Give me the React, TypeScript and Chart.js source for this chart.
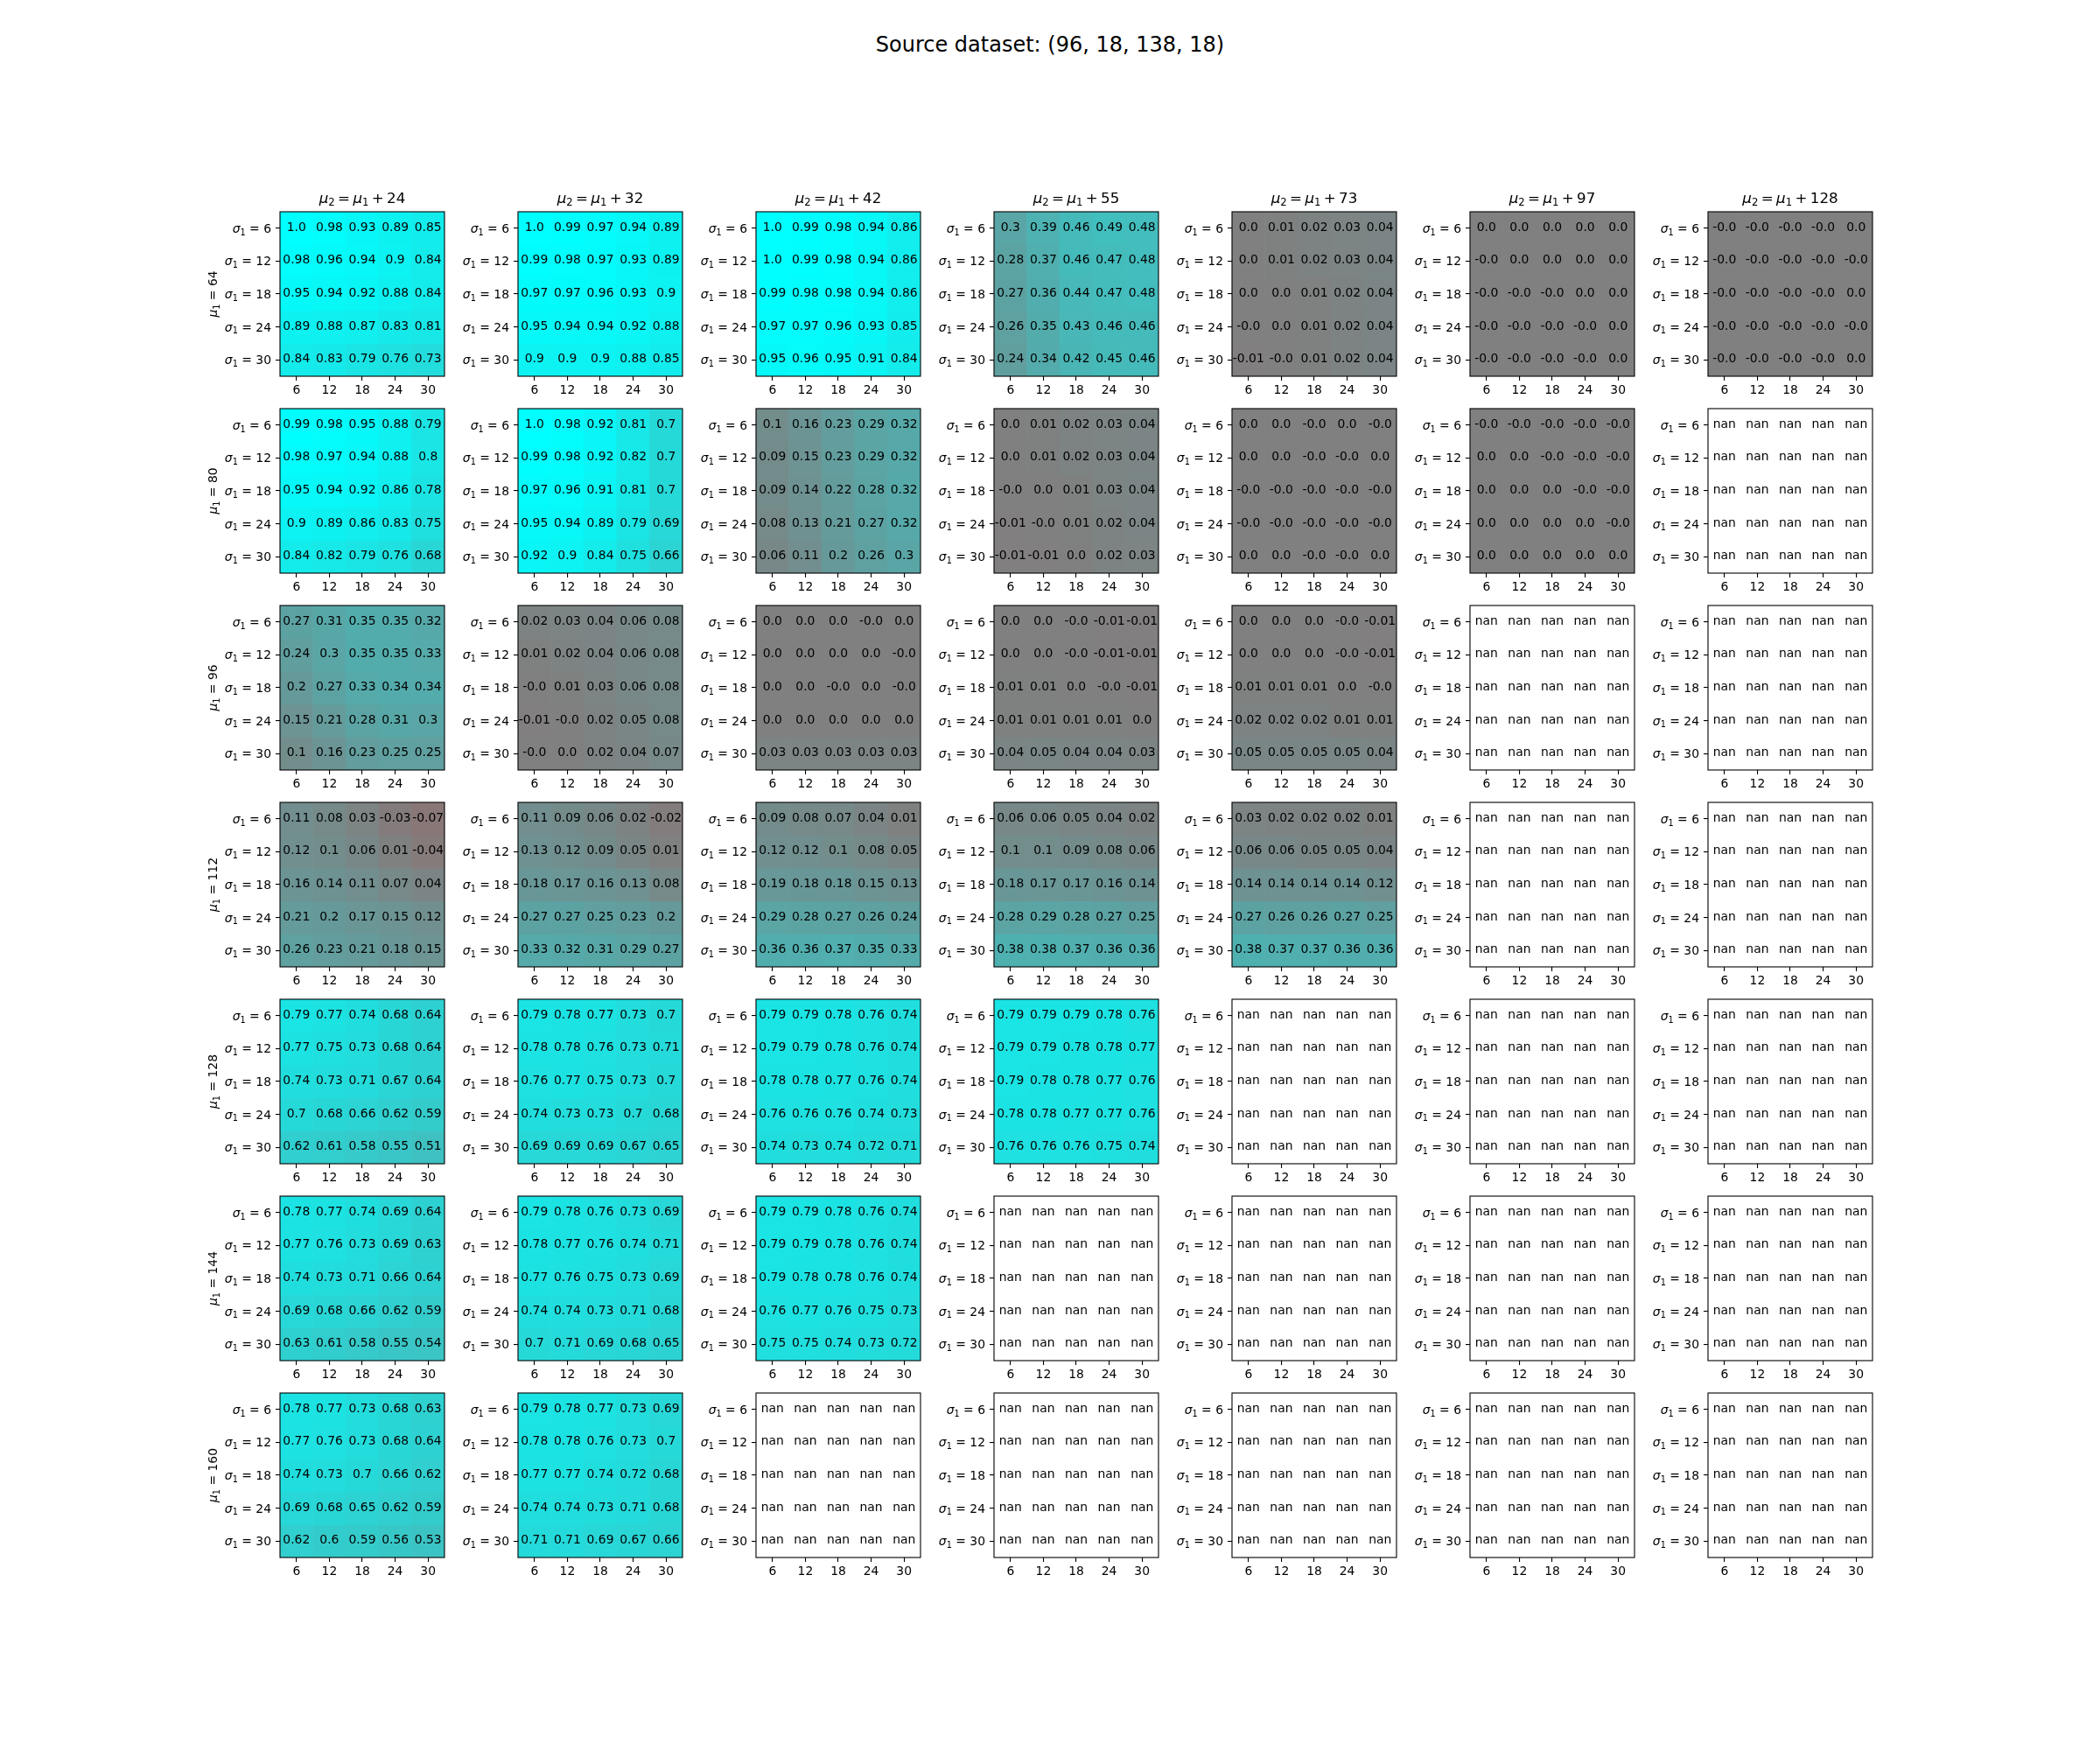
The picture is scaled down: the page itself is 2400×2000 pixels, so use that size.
import React, { useEffect, useRef } from "react";
import { Chart, registerables } from "chart.js";

Chart.register(...registerables);

// ---------- labels ----------
const SUPTITLE = "Source dataset: (96, 18, 138, 18)";
const SIGMA = [6, 12, 18, 24, 30];
const MU1 = [64, 80, 96, 112, 128, 144, 160];
const OFFSETS = [24, 32, 42, 55, 73, 97, 128];

// ---------- data (rows: sigma1 = 6..30, cols: 6..30); -0 means "-0.0" ----------
const MU64_OFF24 = [
  [1.0, 0.98, 0.93, 0.89, 0.85],
  [0.98, 0.96, 0.94, 0.9, 0.84],
  [0.95, 0.94, 0.92, 0.88, 0.84],
  [0.89, 0.88, 0.87, 0.83, 0.81],
  [0.84, 0.83, 0.79, 0.76, 0.73],
];
const MU64_OFF32 = [
  [1.0, 0.99, 0.97, 0.94, 0.89],
  [0.99, 0.98, 0.97, 0.93, 0.89],
  [0.97, 0.97, 0.96, 0.93, 0.9],
  [0.95, 0.94, 0.94, 0.92, 0.88],
  [0.9, 0.9, 0.9, 0.88, 0.85],
];
const MU64_OFF42 = [
  [1.0, 0.99, 0.98, 0.94, 0.86],
  [1.0, 0.99, 0.98, 0.94, 0.86],
  [0.99, 0.98, 0.98, 0.94, 0.86],
  [0.97, 0.97, 0.96, 0.93, 0.85],
  [0.95, 0.96, 0.95, 0.91, 0.84],
];
const MU64_OFF55 = [
  [0.3, 0.39, 0.46, 0.49, 0.48],
  [0.28, 0.37, 0.46, 0.47, 0.48],
  [0.27, 0.36, 0.44, 0.47, 0.48],
  [0.26, 0.35, 0.43, 0.46, 0.46],
  [0.24, 0.34, 0.42, 0.45, 0.46],
];
const MU64_OFF73 = [
  [0.0, 0.01, 0.02, 0.03, 0.04],
  [0.0, 0.01, 0.02, 0.03, 0.04],
  [0.0, 0.0, 0.01, 0.02, 0.04],
  [-0, 0.0, 0.01, 0.02, 0.04],
  [-0.01, -0, 0.01, 0.02, 0.04],
];
const MU64_OFF97 = [
  [0.0, 0.0, 0.0, 0.0, 0.0],
  [-0, 0.0, 0.0, 0.0, 0.0],
  [-0, -0, -0, 0.0, 0.0],
  [-0, -0, -0, -0, 0.0],
  [-0, -0, -0, -0, 0.0],
];
const MU64_OFF128 = [
  [-0, -0, -0, -0, 0.0],
  [-0, -0, -0, -0, -0],
  [-0, -0, -0, -0, 0.0],
  [-0, -0, -0, -0, -0],
  [-0, -0, -0, -0, 0.0],
];

const MU80_OFF24 = [
  [0.99, 0.98, 0.95, 0.88, 0.79],
  [0.98, 0.97, 0.94, 0.88, 0.8],
  [0.95, 0.94, 0.92, 0.86, 0.78],
  [0.9, 0.89, 0.86, 0.83, 0.75],
  [0.84, 0.82, 0.79, 0.76, 0.68],
];
const MU80_OFF32 = [
  [1.0, 0.98, 0.92, 0.81, 0.7],
  [0.99, 0.98, 0.92, 0.82, 0.7],
  [0.97, 0.96, 0.91, 0.81, 0.7],
  [0.95, 0.94, 0.89, 0.79, 0.69],
  [0.92, 0.9, 0.84, 0.75, 0.66],
];
const MU80_OFF42 = [
  [0.1, 0.16, 0.23, 0.29, 0.32],
  [0.09, 0.15, 0.23, 0.29, 0.32],
  [0.09, 0.14, 0.22, 0.28, 0.32],
  [0.08, 0.13, 0.21, 0.27, 0.32],
  [0.06, 0.11, 0.2, 0.26, 0.3],
];
const MU80_OFF55 = [
  [0.0, 0.01, 0.02, 0.03, 0.04],
  [0.0, 0.01, 0.02, 0.03, 0.04],
  [-0, 0.0, 0.01, 0.03, 0.04],
  [-0.01, -0, 0.01, 0.02, 0.04],
  [-0.01, -0.01, 0.0, 0.02, 0.03],
];
const MU80_OFF73 = [
  [0.0, 0.0, -0, 0.0, -0],
  [0.0, 0.0, -0, -0, 0.0],
  [-0, -0, -0, -0, -0],
  [-0, -0, -0, -0, -0],
  [0.0, 0.0, -0, -0, 0.0],
];
const MU80_OFF97 = [
  [-0, -0, -0, -0, -0],
  [0.0, 0.0, -0, -0, -0],
  [0.0, 0.0, 0.0, -0, -0],
  [0.0, 0.0, 0.0, 0.0, -0],
  [0.0, 0.0, 0.0, 0.0, 0.0],
];

const MU96_OFF24 = [
  [0.27, 0.31, 0.35, 0.35, 0.32],
  [0.24, 0.3, 0.35, 0.35, 0.33],
  [0.2, 0.27, 0.33, 0.34, 0.34],
  [0.15, 0.21, 0.28, 0.31, 0.3],
  [0.1, 0.16, 0.23, 0.25, 0.25],
];
const MU96_OFF32 = [
  [0.02, 0.03, 0.04, 0.06, 0.08],
  [0.01, 0.02, 0.04, 0.06, 0.08],
  [-0, 0.01, 0.03, 0.06, 0.08],
  [-0.01, -0, 0.02, 0.05, 0.08],
  [-0, 0.0, 0.02, 0.04, 0.07],
];
const MU96_OFF42 = [
  [0.0, 0.0, 0.0, -0, 0.0],
  [0.0, 0.0, 0.0, 0.0, -0],
  [0.0, 0.0, -0, 0.0, -0],
  [0.0, 0.0, 0.0, 0.0, 0.0],
  [0.03, 0.03, 0.03, 0.03, 0.03],
];
const MU96_OFF55 = [
  [0.0, 0.0, -0, -0.01, -0.01],
  [0.0, 0.0, -0, -0.01, -0.01],
  [0.01, 0.01, 0.0, -0, -0.01],
  [0.01, 0.01, 0.01, 0.01, 0.0],
  [0.04, 0.05, 0.04, 0.04, 0.03],
];
const MU96_OFF73 = [
  [0.0, 0.0, 0.0, -0, -0.01],
  [0.0, 0.0, 0.0, -0, -0.01],
  [0.01, 0.01, 0.01, 0.0, -0],
  [0.02, 0.02, 0.02, 0.01, 0.01],
  [0.05, 0.05, 0.05, 0.05, 0.04],
];

const MU112_OFF24 = [
  [0.11, 0.08, 0.03, -0.03, -0.07],
  [0.12, 0.1, 0.06, 0.01, -0.04],
  [0.16, 0.14, 0.11, 0.07, 0.04],
  [0.21, 0.2, 0.17, 0.15, 0.12],
  [0.26, 0.23, 0.21, 0.18, 0.15],
];
const MU112_OFF32 = [
  [0.11, 0.09, 0.06, 0.02, -0.02],
  [0.13, 0.12, 0.09, 0.05, 0.01],
  [0.18, 0.17, 0.16, 0.13, 0.08],
  [0.27, 0.27, 0.25, 0.23, 0.2],
  [0.33, 0.32, 0.31, 0.29, 0.27],
];
const MU112_OFF42 = [
  [0.09, 0.08, 0.07, 0.04, 0.01],
  [0.12, 0.12, 0.1, 0.08, 0.05],
  [0.19, 0.18, 0.18, 0.15, 0.13],
  [0.29, 0.28, 0.27, 0.26, 0.24],
  [0.36, 0.36, 0.37, 0.35, 0.33],
];
const MU112_OFF55 = [
  [0.06, 0.06, 0.05, 0.04, 0.02],
  [0.1, 0.1, 0.09, 0.08, 0.06],
  [0.18, 0.17, 0.17, 0.16, 0.14],
  [0.28, 0.29, 0.28, 0.27, 0.25],
  [0.38, 0.38, 0.37, 0.36, 0.36],
];
const MU112_OFF73 = [
  [0.03, 0.02, 0.02, 0.02, 0.01],
  [0.06, 0.06, 0.05, 0.05, 0.04],
  [0.14, 0.14, 0.14, 0.14, 0.12],
  [0.27, 0.26, 0.26, 0.27, 0.25],
  [0.38, 0.37, 0.37, 0.36, 0.36],
];

const MU128_OFF24 = [
  [0.79, 0.77, 0.74, 0.68, 0.64],
  [0.77, 0.75, 0.73, 0.68, 0.64],
  [0.74, 0.73, 0.71, 0.67, 0.64],
  [0.7, 0.68, 0.66, 0.62, 0.59],
  [0.62, 0.61, 0.58, 0.55, 0.51],
];
const MU128_OFF32 = [
  [0.79, 0.78, 0.77, 0.73, 0.7],
  [0.78, 0.78, 0.76, 0.73, 0.71],
  [0.76, 0.77, 0.75, 0.73, 0.7],
  [0.74, 0.73, 0.73, 0.7, 0.68],
  [0.69, 0.69, 0.69, 0.67, 0.65],
];
const MU128_OFF42 = [
  [0.79, 0.79, 0.78, 0.76, 0.74],
  [0.79, 0.79, 0.78, 0.76, 0.74],
  [0.78, 0.78, 0.77, 0.76, 0.74],
  [0.76, 0.76, 0.76, 0.74, 0.73],
  [0.74, 0.73, 0.74, 0.72, 0.71],
];
const MU128_OFF55 = [
  [0.79, 0.79, 0.79, 0.78, 0.76],
  [0.79, 0.79, 0.78, 0.78, 0.77],
  [0.79, 0.78, 0.78, 0.77, 0.76],
  [0.78, 0.78, 0.77, 0.77, 0.76],
  [0.76, 0.76, 0.76, 0.75, 0.74],
];

const MU144_OFF24 = [
  [0.78, 0.77, 0.74, 0.69, 0.64],
  [0.77, 0.76, 0.73, 0.69, 0.63],
  [0.74, 0.73, 0.71, 0.66, 0.64],
  [0.69, 0.68, 0.66, 0.62, 0.59],
  [0.63, 0.61, 0.58, 0.55, 0.54],
];
const MU144_OFF32 = [
  [0.79, 0.78, 0.76, 0.73, 0.69],
  [0.78, 0.77, 0.76, 0.74, 0.71],
  [0.77, 0.76, 0.75, 0.73, 0.69],
  [0.74, 0.74, 0.73, 0.71, 0.68],
  [0.7, 0.71, 0.69, 0.68, 0.65],
];
const MU144_OFF42 = [
  [0.79, 0.79, 0.78, 0.76, 0.74],
  [0.79, 0.79, 0.78, 0.76, 0.74],
  [0.79, 0.78, 0.78, 0.76, 0.74],
  [0.76, 0.77, 0.76, 0.75, 0.73],
  [0.75, 0.75, 0.74, 0.73, 0.72],
];

const MU160_OFF24 = [
  [0.78, 0.77, 0.73, 0.68, 0.63],
  [0.77, 0.76, 0.73, 0.68, 0.64],
  [0.74, 0.73, 0.7, 0.66, 0.62],
  [0.69, 0.68, 0.65, 0.62, 0.59],
  [0.62, 0.6, 0.59, 0.56, 0.53],
];
const MU160_OFF32 = [
  [0.79, 0.78, 0.77, 0.73, 0.69],
  [0.78, 0.78, 0.76, 0.73, 0.7],
  [0.77, 0.77, 0.74, 0.72, 0.68],
  [0.74, 0.74, 0.73, 0.71, 0.68],
  [0.71, 0.71, 0.69, 0.67, 0.66],
];

const NAN_PANEL = null; // every cell is nan

const GRID = [
  [MU64_OFF24, MU64_OFF32, MU64_OFF42, MU64_OFF55, MU64_OFF73, MU64_OFF97, MU64_OFF128],
  [MU80_OFF24, MU80_OFF32, MU80_OFF42, MU80_OFF55, MU80_OFF73, MU80_OFF97, NAN_PANEL],
  [MU96_OFF24, MU96_OFF32, MU96_OFF42, MU96_OFF55, MU96_OFF73, NAN_PANEL, NAN_PANEL],
  [MU112_OFF24, MU112_OFF32, MU112_OFF42, MU112_OFF55, MU112_OFF73, NAN_PANEL, NAN_PANEL],
  [MU128_OFF24, MU128_OFF32, MU128_OFF42, MU128_OFF55, NAN_PANEL, NAN_PANEL, NAN_PANEL],
  [MU144_OFF24, MU144_OFF32, MU144_OFF42, NAN_PANEL, NAN_PANEL, NAN_PANEL, NAN_PANEL],
  [MU160_OFF24, MU160_OFF32, NAN_PANEL, NAN_PANEL, NAN_PANEL, NAN_PANEL, NAN_PANEL],
];

// ---------- layout / style ----------
const FONT = '"DejaVu Sans", sans-serif';
const PANEL = 188;
const COL0 = 320;
const ROW0 = 242;
const COL_STEP = 272;
const ROW_STEP = 225;
const M_LEFT = 100;
const M_TOP = 40;
const M_RIGHT = 10;
const M_BOTTOM = 35;
const TICK_PX = 13.9;
const ANN_PX = 13.9;
const TITLE_PX = 16.7;

function cmap(v: number | null): string {
  if (v === null || v === undefined || Number.isNaN(v)) return "rgba(0,0,0,0)";
  const t = Math.max(-1, Math.min(1, v));
  let r: number, g: number;
  if (t >= 0) {
    r = 128 * (1 - t);
    g = 128 + 127 * t;
  } else {
    const a = -t;
    r = 128 + 127 * a;
    g = 128 * (1 - a);
  }
  return `rgb(${Math.round(r)},${Math.round(g)},${Math.round(g)})`;
}

function fmt(v: number | null): string {
  if (v === null || v === undefined || Number.isNaN(v)) return "nan";
  if (Object.is(v, -0)) return "-0.0";
  if (Number.isInteger(v)) return v.toFixed(1);
  return String(v);
}

type Part = { t: string; s: "it" | "rm" | "sub"; gap?: number };

function fontFor(p: Part, size: number) {
  if (p.s === "it") return `italic ${size}px ${FONT}`;
  if (p.s === "sub") return `${size * 0.7}px ${FONT}`;
  return `${size}px ${FONT}`;
}

// gap: extra space (in em) on both sides of the part (mathtext operator spacing)
function drawMath(ctx: CanvasRenderingContext2D, parts: Part[], x: number, y: number, size: number, align: "left" | "center" | "right") {
  ctx.textAlign = "left";
  ctx.textBaseline = "alphabetic";
  const widths = parts.map((p) => {
    ctx.font = fontFor(p, size);
    return ctx.measureText(p.t).width + 2 * (p.gap || 0) * size;
  });
  const total = widths.reduce((a, b) => a + b, 0);
  let cx = align === "center" ? x - total / 2 : align === "right" ? x - total : x;
  parts.forEach((p, i) => {
    ctx.font = fontFor(p, size);
    ctx.fillText(p.t, cx + (p.gap || 0) * size, y + (p.s === "sub" ? 0.2 * size : 0));
    cx += widths[i];
  });
}

function Panel({ r, c }: { r: number; c: number }) {
  const ref = useRef<HTMLCanvasElement | null>(null);
  const vals = GRID[r][c];
  const left = COL0 + COL_STEP * c - M_LEFT;
  const top = ROW0 + ROW_STEP * r - M_TOP;
  const W = M_LEFT + PANEL + M_RIGHT;
  const H = M_TOP + PANEL + M_BOTTOM;

  useEffect(() => {
    if (!ref.current) return;
    const decor = {
      id: "panelDecor",
      afterDatasetsDraw(chart: any) {
        const { ctx, chartArea: a, scales } = chart;
        const xs = scales.x;
        const ys = scales.y;
        ctx.save();
        ctx.fillStyle = "#000";
        ctx.font = `${ANN_PX}px ${FONT}`;
        ctx.textAlign = "center";
        ctx.textBaseline = "alphabetic";
        for (let i = 0; i < SIGMA.length; i++) {
          for (let j = 0; j < SIGMA.length; j++) {
            const v = vals ? vals[i][j] : null;
            ctx.fillText(fmt(v), xs.getPixelForValue(j), ys.getPixelForValue(i) + 0.365 * ANN_PX - 2);
          }
        }
        ctx.strokeStyle = "#000";
        ctx.lineWidth = 1.1;
        ctx.strokeRect(a.left, a.top, a.right - a.left, a.bottom - a.top);
        // y tick labels
        SIGMA.forEach((s, i) => {
          drawMath(
            ctx,
            [
              { t: "σ", s: "it" },
              { t: "1", s: "sub" },
              { t: " = ", s: "rm" },
              { t: String(s), s: "rm" },
            ],
            a.left - 10,
            ys.getPixelForValue(i) + 0.365 * TICK_PX,
            TICK_PX,
            "right"
          );
        });
        if (r === 0) {
          drawMath(
            ctx,
            [
              { t: "μ", s: "it" },
              { t: "2", s: "sub" },
              { t: "=", s: "rm", gap: 0.2 },
              { t: "μ", s: "it" },
              { t: "1", s: "sub" },
              { t: "+", s: "rm", gap: 0.2 },
              { t: String(OFFSETS[c]), s: "rm" },
            ],
            (a.left + a.right) / 2,
            a.top - 10,
            TITLE_PX,
            "center"
          );
        }
        if (c === 0) {
          ctx.save();
          ctx.translate(a.left - 77 + 0.365 * TICK_PX, (a.top + a.bottom) / 2);
          ctx.rotate(-Math.PI / 2);
          drawMath(
            ctx,
            [
              { t: "μ", s: "it" },
              { t: "1", s: "sub" },
              { t: " = " + MU1[r], s: "rm" },
            ],
            0,
            0,
            TICK_PX,
            "center"
          );
          ctx.restore();
        }
        ctx.restore();
      },
    };

    const rows = SIGMA.map((_, i) => i);
    const chart = new Chart(ref.current, {
      type: "bar",
      data: {
        labels: SIGMA.map(String),
        datasets: rows.map((i) => ({
          data: SIGMA.map(() => [i - 0.5, i + 0.5]) as any,
          backgroundColor: SIGMA.map((_, j) => cmap(vals ? vals[i][j] : null)),
          borderWidth: 0,
          barPercentage: 1,
          categoryPercentage: 1,
          grouped: false,
        })),
      },
      options: {
        responsive: false,
        animation: false,
        devicePixelRatio: 1,
        events: [],
        layout: {
          autoPadding: false,
          padding: { left: M_LEFT - 10, top: M_TOP, right: M_RIGHT, bottom: M_BOTTOM - 30 },
        },
        plugins: { legend: { display: false }, tooltip: { enabled: false }, title: { display: false } },
        scales: {
          x: {
            type: "category",
            offset: true,
            grid: { offset: false, drawOnChartArea: false, drawTicks: true, tickLength: 5, color: "#000", lineWidth: 1.1 },
            border: { display: false },
            ticks: { color: "#000", font: { family: FONT, size: TICK_PX }, padding: 3, maxRotation: 0, autoSkip: false },
            afterFit: (s: any) => {
              s.height = 30;
            },
          },
          y: {
            type: "linear",
            reverse: true,
            min: -0.5,
            max: 4.5,
            afterBuildTicks: (s: any) => {
              s.ticks = SIGMA.map((_, i) => ({ value: i }));
            },
            grid: { drawOnChartArea: false, drawTicks: true, tickLength: 5, color: "#000", lineWidth: 1.1 },
            border: { display: false },
            ticks: { display: false },
            afterFit: (s: any) => {
              s.width = 10;
            },
          },
        },
      } as any,
      plugins: [decor],
    });
    return () => chart.destroy();
  }, [r, c]);

  return <canvas ref={ref} width={W} height={H} style={{ position: "absolute", left, top, width: W, height: H }} />;
}

export default function App() {
  useEffect(() => {
    document.body.style.margin = "0";
  }, []);
  const cells: React.ReactElement[] = [];
  MU1.forEach((_, r) => OFFSETS.forEach((__, c) => cells.push(<Panel key={`${r}-${c}`} r={r} c={c} />)));
  return (
    <div style={{ position: "relative", width: 2400, height: 2000, background: "#fff", overflow: "hidden" }}>
      <div
        style={{
          position: "absolute",
          left: 0,
          top: 39,
          width: 2400,
          textAlign: "center",
          fontFamily: FONT,
          fontSize: 24,
          lineHeight: "24px",
          color: "#000",
          whiteSpace: "pre",
        }}
      >
        {SUPTITLE}
      </div>
      {cells}
    </div>
  );
}
